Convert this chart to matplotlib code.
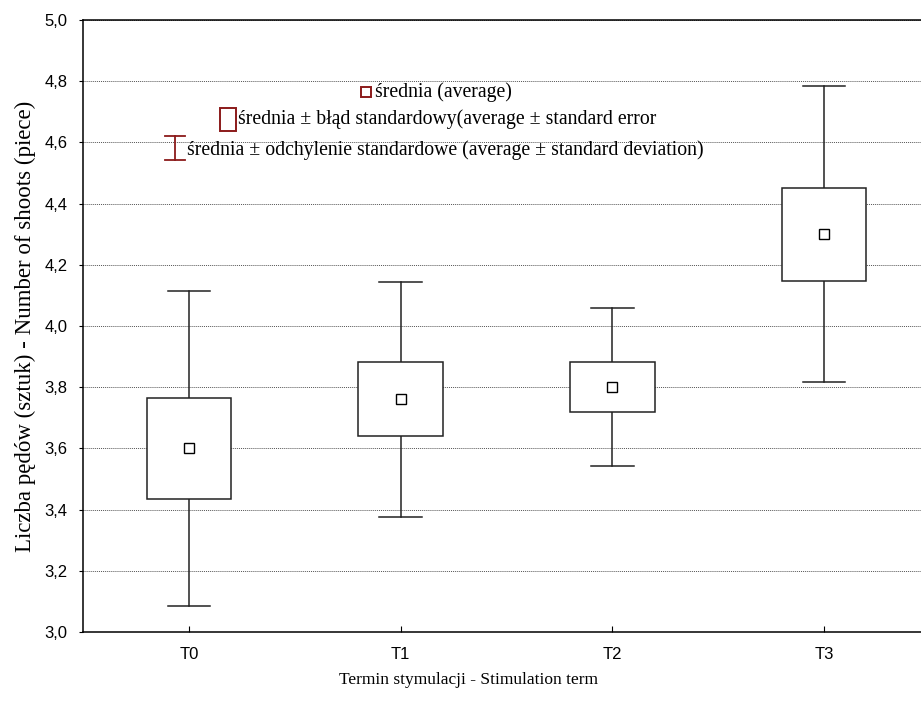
import numpy as np
import matplotlib.pyplot as plt
from matplotlib.patches import Rectangle

# dane
terms = ['T0', 'T1', 'T2', 'T3']
means = [3.60, 3.76, 3.80, 4.30]
se = [0.164, 0.121, 0.081, 0.152]
sd = [0.516, 0.385, 0.259, 0.483]
y_ticks = [3.0, 3.2, 3.4, 3.6, 3.8, 4.0, 4.2, 4.4, 4.6, 4.8, 5.0]

serif = 'Liberation Serif'
sans = 'Liberation Sans'
dark_red = '#8b1a1a'
box_col = '#222222'

fig = plt.figure(figsize=(9.21, 7.02), dpi=100)
ax = fig.add_axes([0.0901, 0.0997, 0.9197, 0.8718])

x = np.arange(len(terms))
box_w = 0.40
cap_w = 0.20

for xi, m, e, s in zip(x, means, se, sd):
    # wąsy (odchylenie standardowe)
    ax.plot([xi, xi], [m - s, m - e], color=box_col, lw=1.1, zorder=3)
    ax.plot([xi, xi], [m + e, m + s], color=box_col, lw=1.1, zorder=3)
    ax.plot([xi - cap_w / 2, xi + cap_w / 2], [m - s, m - s], color=box_col, lw=1.1, zorder=3)
    ax.plot([xi - cap_w / 2, xi + cap_w / 2], [m + s, m + s], color=box_col, lw=1.1, zorder=3)
    # pudełko (błąd standardowy)
    ax.add_patch(Rectangle((xi - box_w / 2, m - e), box_w, 2 * e,
                           facecolor='white', edgecolor=box_col, lw=1.1, zorder=3))

ax.plot(x, means, linestyle='none', marker='s', markersize=7,
        markerfacecolor='white', markeredgecolor='black', markeredgewidth=1.0, zorder=4)

ax.set_xlim(-0.5, 3.5)
ax.set_ylim(3.0, 5.0)
ax.set_xticks(x)
ax.set_xticklabels(terms, fontfamily=sans, fontsize=12)
ax.set_yticks(y_ticks)
ax.set_yticklabels([f'{v:.1f}'.replace('.', ',') for v in y_ticks], fontfamily=sans, fontsize=12)
ax.tick_params(axis='x', direction='in', length=4, pad=11)
ax.tick_params(axis='y', direction='out', length=3, pad=8)
ax.grid(axis='y', linestyle=(0, (1, 1)), color='#555555', lw=0.7, zorder=0)
ax.set_axisbelow(True)
ax.spines['right'].set_visible(False)
for sp in ['left', 'bottom', 'top']:
    ax.spines[sp].set_linewidth(1.1)

ax.set_ylabel('Liczba pędów (sztuk) - Number of shoots (piece)', fontfamily=serif, fontsize=16.5, labelpad=6)
fig.text(468 / 921, 1 - 680 / 702, 'Termin stymulacji - Stimulation term',
         fontfamily=serif, fontsize=12.5, ha='center', va='center')

# legenda
tr = ax.transAxes
ax.add_patch(Rectangle((0.3285, 0.874), 0.0115, 0.016, transform=tr, fill=False,
                       edgecolor=dark_red, lw=1.4, zorder=5))
ax.add_patch(Rectangle((0.1617, 0.8186), 0.0195, 0.0374, transform=tr, fill=False,
                       edgecolor=dark_red, lw=1.4, zorder=5))
ax.plot([0.109, 0.109], [0.771, 0.810], transform=tr, color=dark_red, lw=1.3, zorder=5)
ax.plot([0.097, 0.121], [0.771, 0.771], transform=tr, color=dark_red, lw=1.3, zorder=5)
ax.plot([0.097, 0.121], [0.810, 0.810], transform=tr, color=dark_red, lw=1.3, zorder=5)
ax.text(0.345, 0.882, 'średnia (average)', transform=tr, fontfamily=serif,
        fontsize=14.2, va='center', ha='left')
ax.text(0.183, 0.838, 'średnia ± błąd standardowy(average ± standard error', transform=tr,
        fontfamily=serif, fontsize=14.2, va='center', ha='left')
ax.text(0.123, 0.788, 'średnia ± odchylenie standardowe (average ± standard deviation)',
        transform=tr, fontfamily=serif, fontsize=14.2, va='center', ha='left')

fig.savefig('out.png', dpi=100)
